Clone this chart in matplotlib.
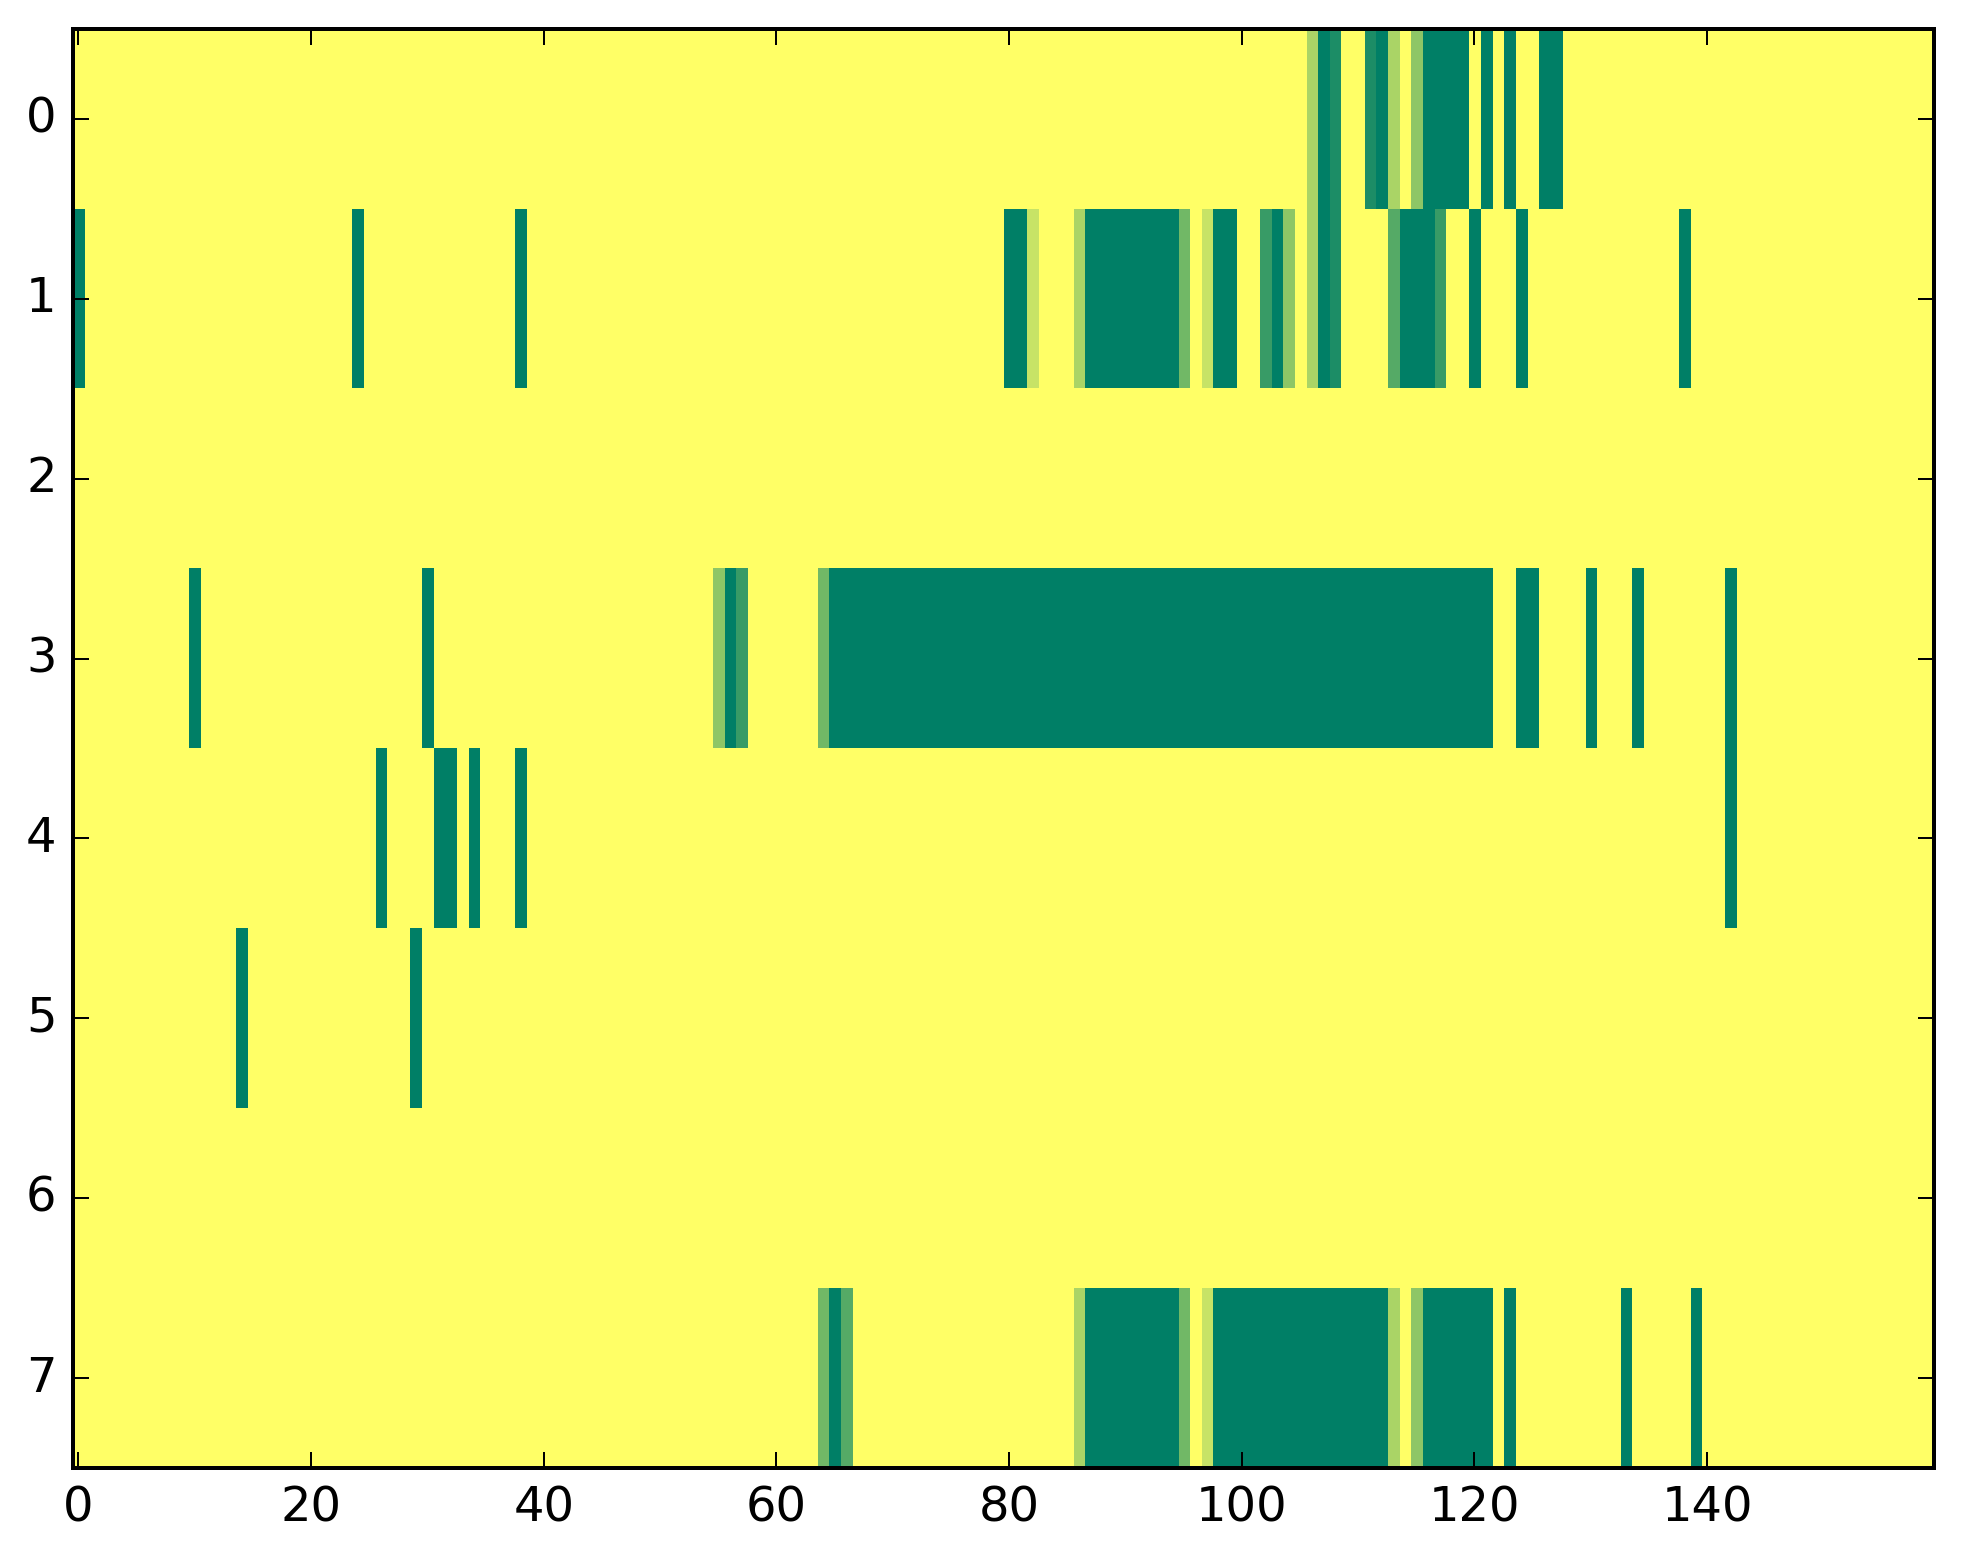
import numpy as np
import matplotlib
matplotlib.use("Agg")
import matplotlib.pyplot as plt

plt.style.use("classic")

n_rows = 8
n_cols = 160

# runs per row: (first column, last column, value); value scale 0..9
row0 = [(106, 106, 3), (107, 107, 9), (108, 108, 8), (111, 111, 8), (112, 112, 9),
        (113, 113, 3), (115, 115, 4), (116, 119, 9), (121, 121, 9), (123, 123, 9),
        (126, 127, 9)]
row1 = [(0, 0, 9), (24, 24, 9), (38, 38, 9), (80, 81, 9), (82, 82, 2), (86, 86, 3),
        (87, 94, 9), (95, 95, 5), (97, 97, 2), (98, 99, 9), (102, 102, 7), (103, 103, 9),
        (104, 104, 4), (106, 106, 3), (107, 107, 9), (108, 108, 8), (113, 113, 6),
        (114, 116, 9), (117, 117, 7), (120, 120, 9), (124, 124, 9), (138, 138, 9)]
row2 = []
row3 = [(10, 10, 9), (30, 30, 9), (55, 55, 4), (56, 56, 9), (57, 57, 7), (64, 64, 5),
        (65, 121, 9), (124, 125, 9), (130, 130, 9), (134, 134, 9), (142, 142, 9)]
row4 = [(26, 26, 9), (31, 32, 9), (34, 34, 9), (38, 38, 9), (142, 142, 9)]
row5 = [(14, 14, 9), (29, 29, 9)]
row6 = []
row7 = [(64, 64, 5), (65, 65, 9), (66, 66, 6), (86, 86, 3), (87, 94, 9), (95, 95, 5),
        (97, 97, 2), (98, 112, 9), (113, 113, 3), (115, 115, 4), (116, 121, 9),
        (123, 123, 9), (133, 133, 9), (139, 139, 9)]

rows = [row0, row1, row2, row3, row4, row5, row6, row7]
data = np.zeros((n_rows, n_cols))
for r, runs in enumerate(rows):
    for a, b, v in runs:
        data[r, a:b + 1] = v

xticks = [0, 20, 40, 60, 80, 100, 120, 140]
yticks = [0, 1, 2, 3, 4, 5, 6, 7]

fig = plt.figure(figsize=(1963 / 288, 1564 / 288), dpi=288, facecolor="white")
ax = fig.add_axes([72.6 / 1963, 1 - 1468 / 1564, (1934 - 72.6) / 1963, (1468 - 29) / 1564])
ax.imshow(data, cmap="summer_r", vmin=0, vmax=9, interpolation="nearest", aspect="auto")
ax.set_xticks(xticks)
ax.set_yticks(yticks)
ax.set_xlim(-0.5, n_cols - 0.5)
ax.set_ylim(n_rows - 0.5, -0.5)
fig.savefig("out.png", dpi=288, facecolor="white")
